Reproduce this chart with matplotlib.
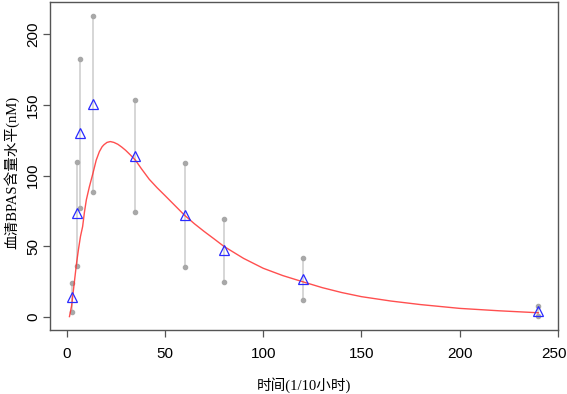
import matplotlib
matplotlib.use("Agg")
import matplotlib.pyplot as plt
import matplotlib.transforms as mtransforms

# observed means and error bar ends
t_obs = [2.5, 5, 7, 13.5, 35, 60, 80, 120, 240]
c_mean = [14.4, 73.4, 130.5, 150.8, 114.2, 72.2, 47.4, 26.9, 4.2]
c_hi = [24.3, 110, 183, 213, 153.9, 109, 69.2, 42, 7.8]
c_lo = [3.3, 36.1, 77.4, 88.7, 74.6, 35.2, 24.8, 11.8, 0.9]

# fitted curve
t_fit = [1.4, 2.5, 4, 5, 6, 7, 8.1, 9, 10, 11.5, 13.4, 15, 16.6, 18, 19, 20.5, 22.2,
         24, 26, 28, 30, 32.5, 35, 38, 42, 46, 50, 55, 60, 65, 70, 75, 80, 90,
         100, 110, 120, 130, 140, 150, 165, 180, 200, 220, 240]
c_fit = [0.3, 8, 26, 38, 48, 57, 64, 74, 83, 92, 102, 111, 117, 120.5, 122, 123.6, 124.2,
         123.6, 122.3, 120.3, 118, 114.6, 111, 105, 97.5, 91.5, 86, 79, 72, 66, 60.5, 55.3, 50, 41.5,
         34.5, 29.3, 25, 20.8, 17.3, 14.4, 11.3, 8.8, 6.1, 4.4, 3.0]

xticks = [0, 50, 100, 150, 200, 250]
yticks = [0, 50, 100, 150, 200]

fig = plt.figure(figsize=(5.67, 3.94), dpi=100)
ax = fig.add_axes([50/567, 64/394, 508/567, 328/394])

for t, lo, hi in zip(t_obs, c_lo, c_hi):
    ax.plot([t, t], [lo, hi], color="#d0d0d0", lw=1.2, zorder=1)
ax.plot(t_obs, c_hi, "o", color="#a8a8a8", ms=3, zorder=2)
ax.plot(t_obs, c_lo, "o", color="#a8a8a8", ms=3, zorder=2)
ax.plot(t_fit, c_fit, color="#ff3030", lw=1.0, alpha=0.85, zorder=3)
ax.plot(t_obs, c_mean, "^", mfc="none", mec="#2a2aff", ms=6.5, mew=0.9, zorder=4)

ax.set_xlim(-8.5, 249.5)
ax.set_ylim(-9.2, 223)
ax.set_xticks(xticks)
ax.set_yticks(yticks)
ax.tick_params(length=5, width=0.9, color="#555555", labelsize=11)
ax.tick_params(axis="x", pad=7)
ax.tick_params(axis="y", pad=2)
for lab in ax.get_xticklabels() + ax.get_yticklabels():
    lab.set_family("Liberation Sans")
for lab in ax.get_yticklabels():
    lab.set_rotation(90)
    lab.set_va("center")
# keep the last x label inside the picture
last = ax.get_xticklabels()[-1]
last.set_transform(last.get_transform() +
                   mtransforms.ScaledTranslation(-4/100, 0, fig.dpi_scale_trans))
for s in ax.spines.values():
    s.set_color("#555555")
    s.set_linewidth(1.0)

fam = ["Liberation Serif", "Noto Sans CJK SC"]
ax.set_xlabel("时间(1/10小时)", family=fam, fontsize=10.5, labelpad=12)
fig.text(12/567, 1 - 172/394, "血清BPAS含量水平(nM)", family=fam, fontsize=10.5,
         rotation=90, ha="center", va="center")

fig.savefig("out.png", dpi=100)
